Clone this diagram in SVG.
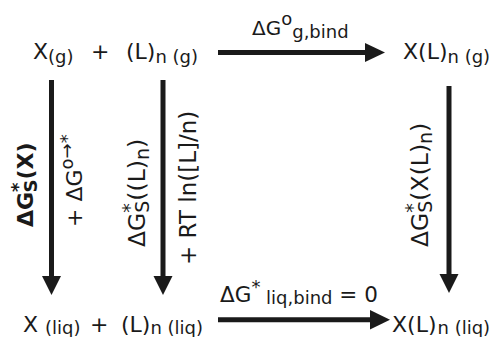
<svg xmlns="http://www.w3.org/2000/svg" width="501" height="337" viewBox="0 0 501 337">
<defs>
<style>
text{font-family:"DejaVu Sans",sans-serif;fill:#1a1a1a;font-size:22px}
.s{font-size:18px}
.v{font-size:23.5px}
.v .s{font-size:19px}
.b{font-weight:bold}
.ln{stroke:#1a1a1a;stroke-width:5;fill:none}
.hd{fill:#1a1a1a}
</style>
</defs>
<g id="xg"><text x="33" y="59">X<tspan class="s" dy="4">(g)</tspan></text></g>
<g id="plus1"><text x="91" y="59">+</text></g>
<g id="lng"><text x="126" y="59">(L)<tspan class="s" dy="4">n (g)</tspan></text></g>
<g id="xlng"><text x="403" y="59">X(L)<tspan class="s" dy="4">n (g)</tspan></text></g>
<g id="xliq"><text x="23" y="332">X <tspan class="s" dy="2">(liq)</tspan></text></g>
<g id="plus2"><text x="90" y="332">+</text></g>
<g id="lnliq"><text x="121" y="332">(L)<tspan class="s" dy="2">n (liq)</tspan></text></g>
<g id="xlnliq"><text x="392" y="332">X(L)<tspan class="s" dy="2" dx="1">n (liq)</tspan></text></g>
<g id="connectors">
<line class="ln" x1="218" y1="52.5" x2="367" y2="52.5"/><polygon class="hd" points="365,43 385,52.5 365,62"/>
<line class="ln" x1="218" y1="319.7" x2="372" y2="319.7"/><polygon class="hd" points="370,310 390,319.7 370,329.5"/>
<line class="ln" x1="51.5" y1="80" x2="51.5" y2="278"/><polygon class="hd" points="42,276 61,276 51.5,295"/>
<line class="ln" x1="163" y1="80" x2="163" y2="278"/><polygon class="hd" points="153.5,276 172.5,276 163,295"/>
<line class="ln" x1="449" y1="86" x2="449" y2="276"/><polygon class="hd" points="439.5,274 458.5,274 449,293"/>
<text style="font-size:20px" x="252" y="35">ΔG<tspan class="s" dy="-10">o</tspan><tspan class="s" dy="13">g,bind</tspan></text>
<text style="font-size:21.5px" x="220" y="302">ΔG<tspan class="s" dy="-9">*</tspan><tspan class="s" dy="11"> liq,bind</tspan><tspan dy="-2"> = 0</tspan></text>
<text class="b" transform="translate(33,227) rotate(-90)">ΔG<tspan class="s" dy="-9">*</tspan><tspan class="s" dx="-10" dy="13">S</tspan><tspan dy="-4">(X)</tspan></text>
<text transform="translate(82,227) rotate(-90)">+ ΔG<tspan class="s" dy="-9">o→*</tspan></text>
<text class="v" transform="translate(145,247) rotate(-90)">ΔG<tspan class="s" dy="-9">*</tspan><tspan class="s" dx="-9.5" dy="13">S</tspan><tspan dy="-4">((L)</tspan><tspan class="s" dy="4">n</tspan><tspan dy="-4">)</tspan></text>
<text style="font-size:23px" transform="translate(196,265) rotate(-90)">+ RT ln([L]/n)</text>
<text class="v" transform="translate(428,247) rotate(-90)">ΔG<tspan class="s" dy="-9">*</tspan><tspan class="s" dx="-9.5" dy="13">S</tspan><tspan dy="-4">(X(L)</tspan><tspan class="s" dy="4">n</tspan><tspan dy="-4">)</tspan></text>
</g>
</svg>
